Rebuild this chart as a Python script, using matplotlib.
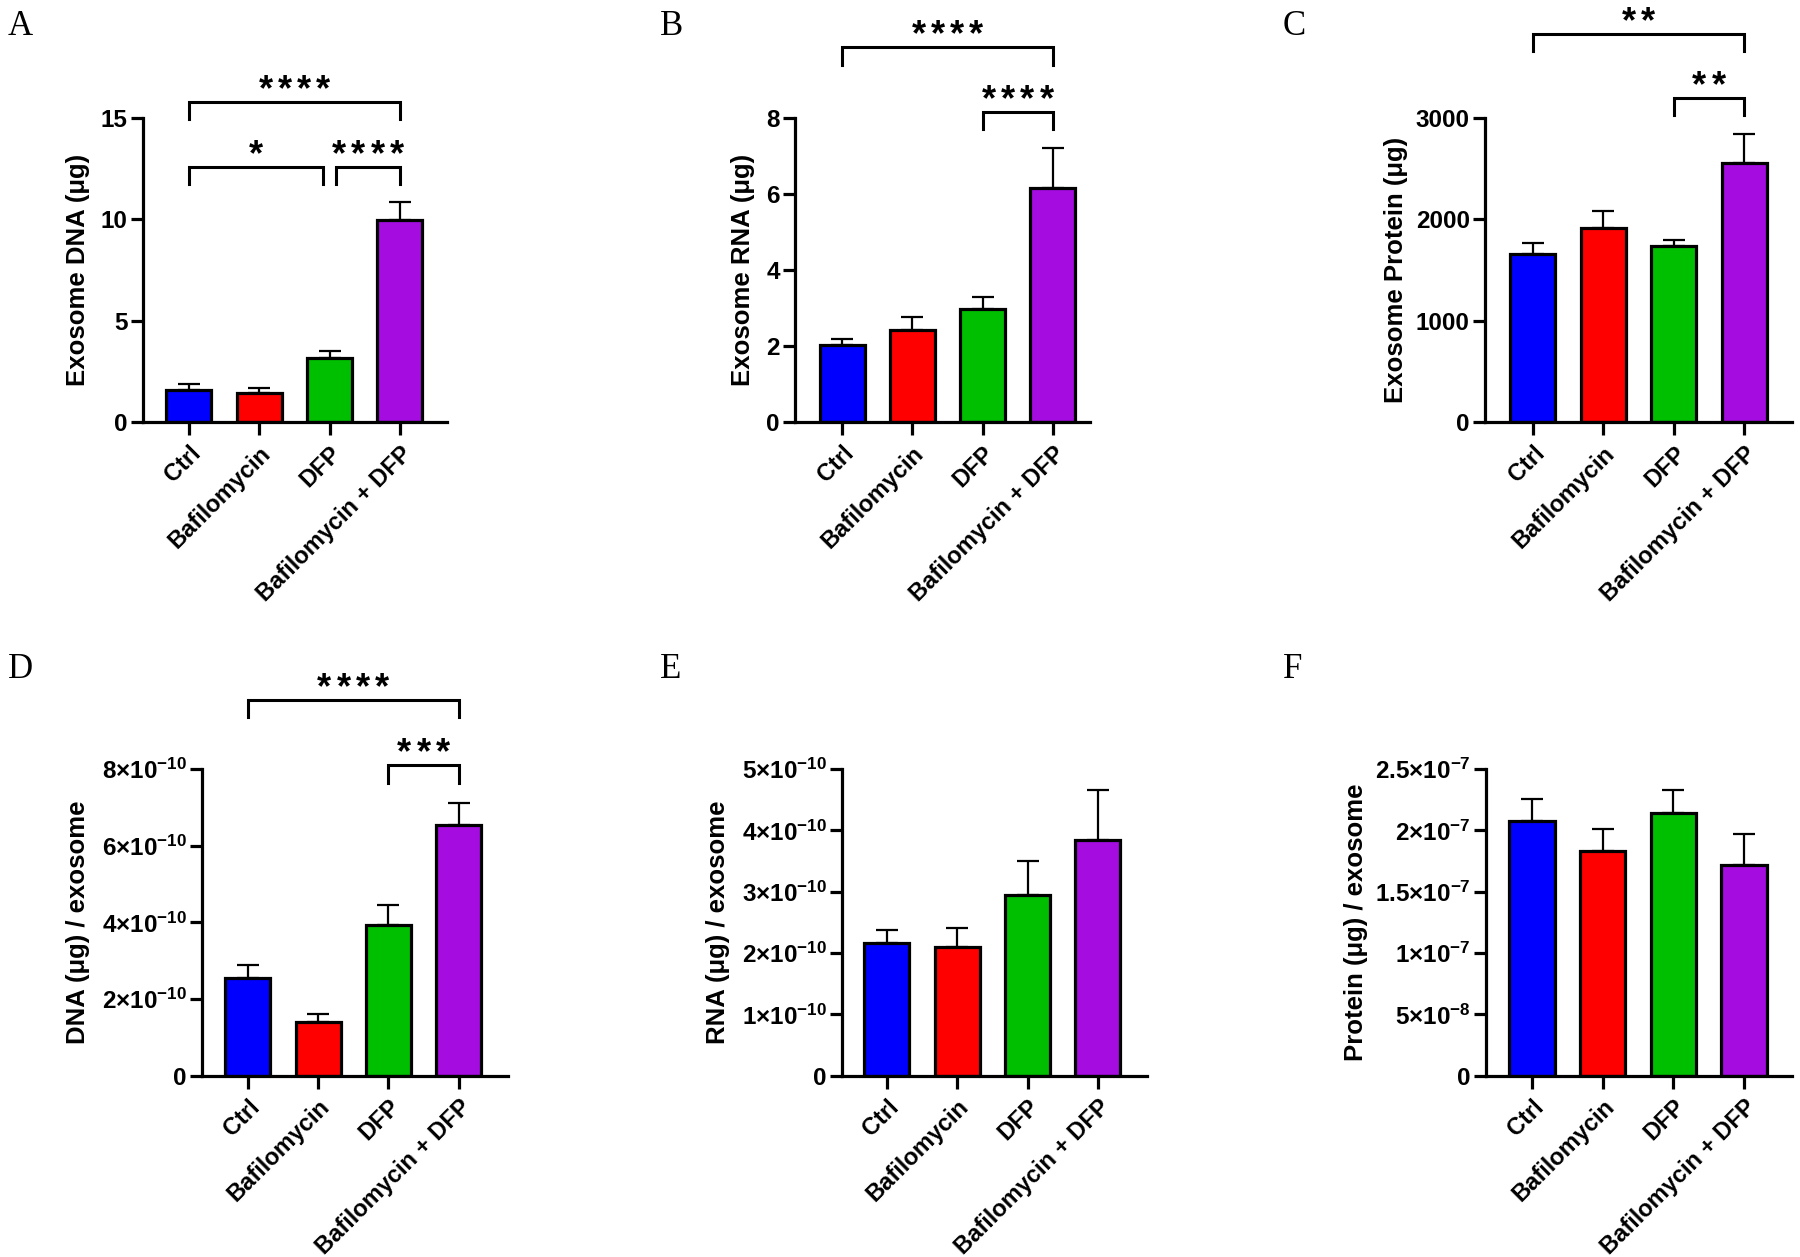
import matplotlib.pyplot as plt
import numpy as np
from matplotlib.ticker import FuncFormatter

# Groups and colours
groups = ['Ctrl', 'Bafilomycin', 'DFP', 'Bafilomycin + DFP']
colors = ['#0000FF', '#FF0000', '#00BF00', '#A50CE0']

# Panel A - exosome DNA
dna_mean = [1.60, 1.47, 3.17, 9.96]
dna_err = [0.32, 0.23, 0.36, 0.89]
# Panel B - exosome RNA
rna_mean = [2.04, 2.42, 2.97, 6.16]
rna_err = [0.15, 0.35, 0.32, 1.05]
# Panel C - exosome protein
protein_mean = [1660, 1913, 1736, 2558]
protein_err = [106, 170, 64, 280]
# Panel D - DNA per exosome
dna_exo_mean = [2.55e-10, 1.39e-10, 3.92e-10, 6.55e-10]
dna_exo_err = [0.34e-10, 0.23e-10, 0.52e-10, 0.57e-10]
# Panel E - RNA per exosome
rna_exo_mean = [2.17e-10, 2.10e-10, 2.95e-10, 3.84e-10]
rna_exo_err = [0.20e-10, 0.30e-10, 0.55e-10, 0.82e-10]
# Panel F - protein per exosome
prot_exo_mean = [2.074e-7, 1.832e-7, 2.145e-7, 1.716e-7]
prot_exo_err = [0.184e-7, 0.178e-7, 0.181e-7, 0.252e-7]

# Significance brackets: (group i, group j, label, bracket height)
brackets_a = [(0, 3, '****', 15.8), (0, 2, '*', 12.6), (2, 3, '****', 12.6)]
brackets_b = [(0, 3, '****', 9.86), (2, 3, '****', 8.17)]
brackets_c = [(0, 3, '**', 3830), (2, 3, '**', 3196)]
brackets_d = [(0, 3, '****', 9.80e-10), (2, 3, '***', 8.10e-10)]

plt.rcParams['font.family'] = ['Liberation Sans', 'DejaVu Sans']
plt.rcParams['font.weight'] = 'bold'
plt.rcParams['mathtext.fontset'] = 'custom'
plt.rcParams['mathtext.rm'] = 'Liberation Sans:bold'
plt.rcParams['mathtext.it'] = 'Liberation Sans:bold'
plt.rcParams['mathtext.bf'] = 'Liberation Sans:bold'


def sci_fmt(v, pos):
    if abs(v) < 1e-30:
        return '0'
    exp = int(np.floor(np.log10(abs(v)) + 1e-9))
    mant = v / 10 ** exp
    return f'{mant:g}×10$^{{{exp}}}$'


fig = plt.figure(figsize=(18, 12.57), dpi=100)
W, H = 1800, 1257

# letter, axes box in pixels (left, top, right, bottom), xlim, ylabel center x (px)
panels = [
    ('A', (143, 118, 447, 422.5), (-0.654, 3.67), 78, dna_mean, dna_err,
     'Exosome DNA (μg)', [0, 5, 10, 15], False, brackets_a, (8, 0)),
    ('B', (795, 118, 1090, 422.5), (-0.67, 3.53), 743, rna_mean, rna_err,
     'Exosome RNA (μg)', [0, 2, 4, 6, 8], False, brackets_b, (660, 0)),
    ('C', (1485, 118, 1792, 422.5), (-0.68, 3.68), 1396, protein_mean, protein_err,
     'Exosome Protein (μg)', [0, 1000, 2000, 3000], False, brackets_c, (1283, 0)),
    ('D', (202, 769, 508, 1075.7), (-0.65, 3.70), 78, dna_exo_mean, dna_exo_err,
     'DNA (μg) / exosome', [0, 2e-10, 4e-10, 6e-10, 8e-10], True, brackets_d, (8, 643)),
    ('E', (842, 769, 1147, 1075.7), (-0.64, 3.70), 718, rna_exo_mean, rna_exo_err,
     'RNA (μg) / exosome', [0, 1e-10, 2e-10, 3e-10, 4e-10, 5e-10], True, [], (660, 643)),
    ('F', (1486, 769, 1792, 1075.7), (-0.65, 3.68), 1356, prot_exo_mean, prot_exo_err,
     'Protein (μg) / exosome', [0, 5e-8, 1e-7, 1.5e-7, 2e-7, 2.5e-7], True, [], (1283, 643)),
]

x = np.arange(len(groups))

for (letter, box, xlim, ylab_x, means, errs, ylabel, yticks, sci,
     brackets, letter_pos) in panels:
    l, t, r, b = box
    ax = fig.add_axes([l / W, 1 - b / H, (r - l) / W, (b - t) / H])
    ax.bar(x, means, width=0.64, color=colors, edgecolor='black', linewidth=2.3, zorder=2)
    ax.errorbar(x, means, yerr=[np.zeros(len(errs)), errs], fmt='none', ecolor='black',
                elinewidth=1.6, capsize=8, capthick=1.6, zorder=1)
    ax.set_xlim(*xlim)
    ax.set_ylim(0, yticks[-1])
    ax.set_yticks(yticks)
    if sci:
        ax.yaxis.set_major_formatter(FuncFormatter(sci_fmt))
    ax.set_xticks(x)
    ax.set_xticklabels(groups, rotation=45, ha='right', rotation_mode='anchor',
                       fontsize=17, fontweight='bold')
    ax.tick_params(axis='y', labelsize=17.5, width=2.3, length=9, pad=2)
    ax.tick_params(axis='x', width=2.3, length=9, pad=5)
    for s in ['top', 'right']:
        ax.spines[s].set_visible(False)
    for s in ['left', 'bottom']:
        ax.spines[s].set_linewidth(2.3)
    ax.set_ylabel(ylabel, fontsize=18.5, fontweight='bold', va='center')
    ax.yaxis.set_label_coords((ylab_x - l) / (r - l), 0.5)

    # significance brackets
    ytop = yticks[-1]
    drop = 0.057 * ytop
    for (i, j, lab, yb) in brackets:
        x0, x1 = float(i), float(j)
        for (i2, j2, _, yb2) in brackets:
            if yb2 == yb and (i2, j2) != (i, j):
                if j == i2:
                    x1 -= 0.09
                if i == j2:
                    x0 += 0.09
        ax.plot([x0, x0, x1, x1], [yb - drop, yb, yb, yb - drop], color='black',
                lw=2.2, clip_on=False, solid_joinstyle='miter')
        n = len(lab)
        for k, star in enumerate(lab):
            ax.annotate(star, xy=((x0 + x1) / 2, yb),
                        xytext=((k - (n - 1) / 2) * 13.9, 8),
                        textcoords='offset points', ha='center', va='center',
                        fontsize=26, fontweight='bold', annotation_clip=False)

    fig.text(letter_pos[0] / W, 1 - (letter_pos[1] + 10) / H, letter,
             family='Liberation Serif', fontweight='normal', fontsize=25, va='top')

fig.savefig('out.png', dpi=100)
